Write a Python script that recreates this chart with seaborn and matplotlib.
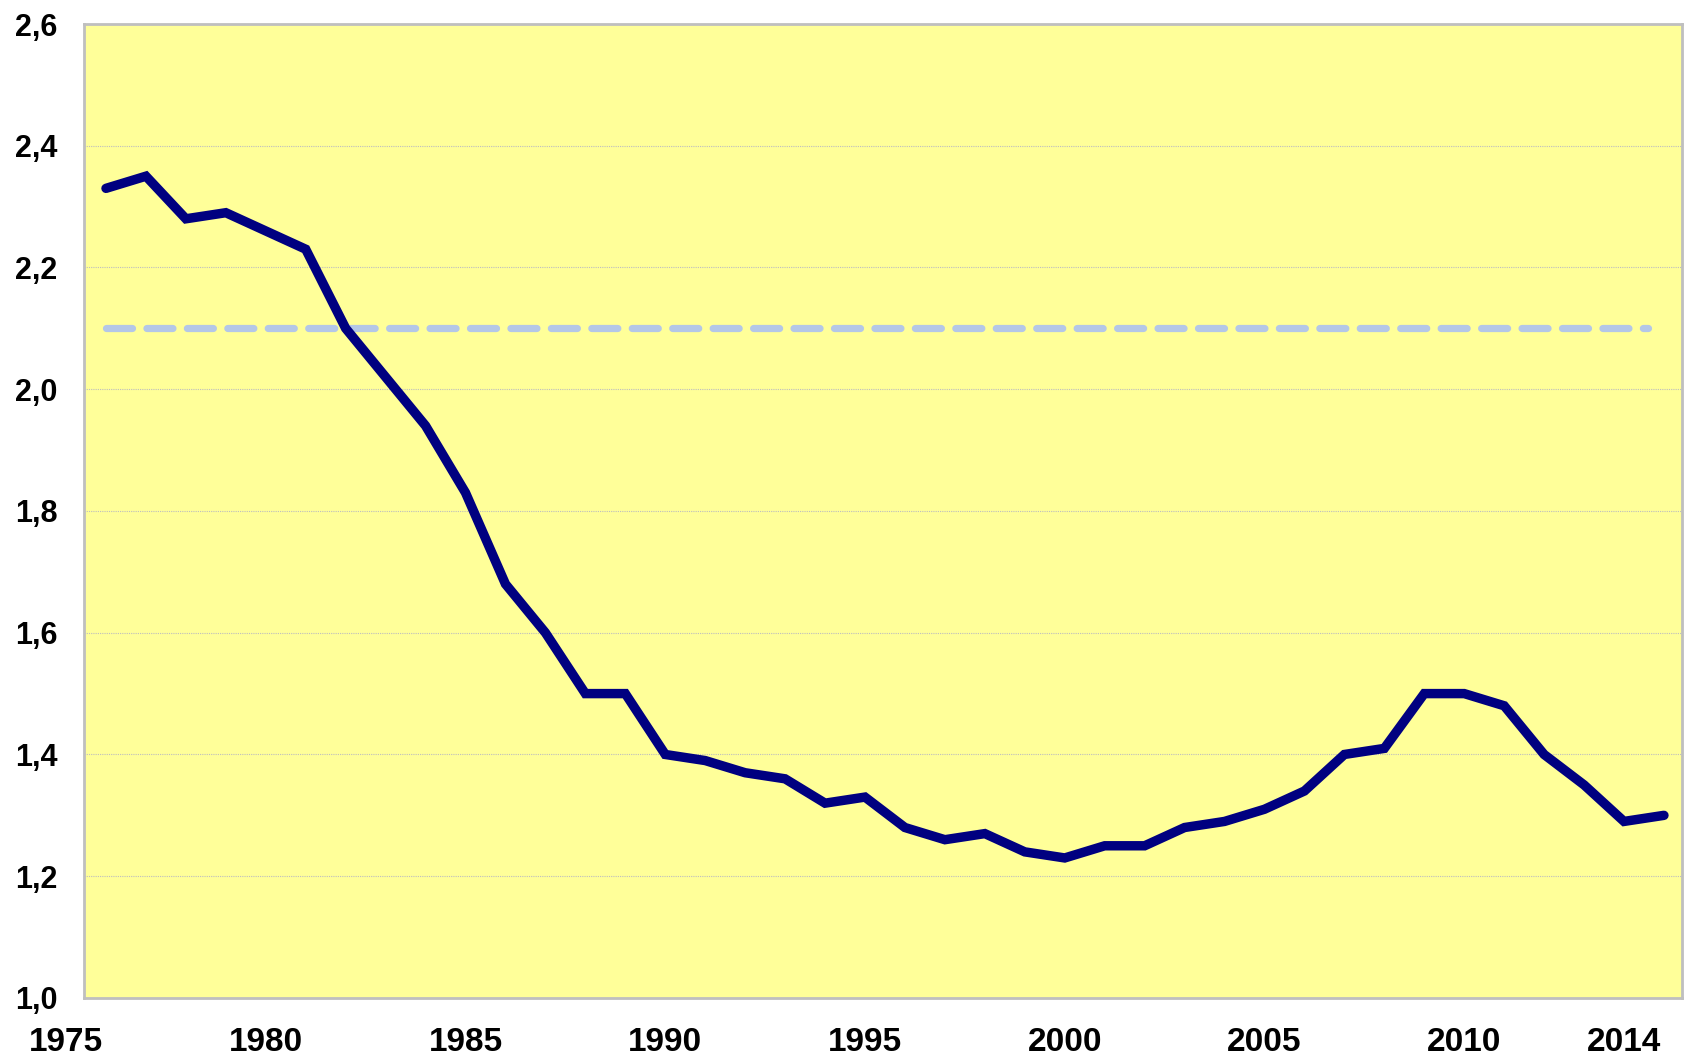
import matplotlib
matplotlib.use("Agg")
import matplotlib.pyplot as plt
import matplotlib.transforms as mtransforms
import numpy as np
import pandas as pd
import seaborn as sns

# values
years = list(range(1976, 2016))
rate = [2.33, 2.35, 2.28, 2.29, 2.26, 2.23, 2.10, 2.02, 1.94, 1.83,
        1.68, 1.60, 1.50, 1.50, 1.40, 1.39, 1.37, 1.36, 1.32, 1.33,
        1.28, 1.26, 1.27, 1.24, 1.23, 1.25, 1.25, 1.28, 1.29, 1.31,
        1.34, 1.40, 1.41, 1.50, 1.50, 1.48, 1.40, 1.35, 1.29, 1.30]
replacement = [2.1] * len(years)
year_ticks = [1975, 1980, 1985, 1990, 1995, 2000, 2005, 2010, 2014]
y_ticks = [1.0, 1.2, 1.4, 1.6, 1.8, 2.0, 2.2, 2.4, 2.6]

df = pd.DataFrame({"year": years, "rate": rate, "repl": replacement})

sns.set_style("white")
plt.rcParams['font.family'] = ['Liberation Sans', 'DejaVu Sans']
plt.rcParams['text.color'] = 'black'
plt.rcParams['xtick.color'] = 'black'
plt.rcParams['ytick.color'] = 'black'

fig = plt.figure(figsize=(16.87, 10.62), dpi=100)
ax = fig.add_axes([0.0498, 0.0603, 0.9472, 0.9171])
ax.set_facecolor('#FFFF99')

# replacement level (dashed)
sns.lineplot(data=df, x='year', y='repl', ax=ax, color='#B4C7E7', linewidth=5.2,
             zorder=2)
ax.lines[-1].set_dashes([3.6, 2.0])
ax.lines[-1].set_dash_capstyle('round')
ax.lines[-1].set_data(years[:-1] + [2014.6], replacement)

# main series
sns.lineplot(data=df, x='year', y='rate', ax=ax, color='#000080', linewidth=6.8,
             zorder=3)
ax.lines[-1].set_solid_capstyle('round')
ax.lines[-1].set_solid_joinstyle('miter')

ax.set_xlim(1975.45, 2015.45)
ax.set_ylim(1.0, 2.6)
ax.set_yticks(y_ticks)
ax.set_yticklabels([f'{v:.1f}'.replace('.', ',') for v in y_ticks])
ax.set_xticks([t for t in year_ticks if t > 1975.45])
ax.set_xticklabels([str(t) for t in year_ticks if t > 1975.45])

# 1975 sits left of the plot area, like the original
trans = mtransforms.blended_transform_factory(ax.transData, ax.transAxes)
ax.text(1975, -0.030, '1975', transform=trans, ha='center', va='top',
        fontsize=24, fontweight='bold', clip_on=False)

ax.tick_params(axis='y', length=0, pad=19, labelsize=22)
ax.tick_params(axis='x', length=0, pad=21, labelsize=24)
for lab in ax.get_xticklabels() + ax.get_yticklabels():
    lab.set_fontweight('bold')

ax.grid(axis='y', color='#BEBEBE', linestyle=(0, (1, 1)), linewidth=0.8)
ax.set_axisbelow(True)
for s in ax.spines.values():
    s.set_visible(True)
    s.set_color('#BFBFBF')
    s.set_linewidth(2)

ax.set_xlabel('')
ax.set_ylabel('')
if ax.get_legend():
    ax.get_legend().remove()

fig.savefig('out.png', dpi=100, facecolor='white')
